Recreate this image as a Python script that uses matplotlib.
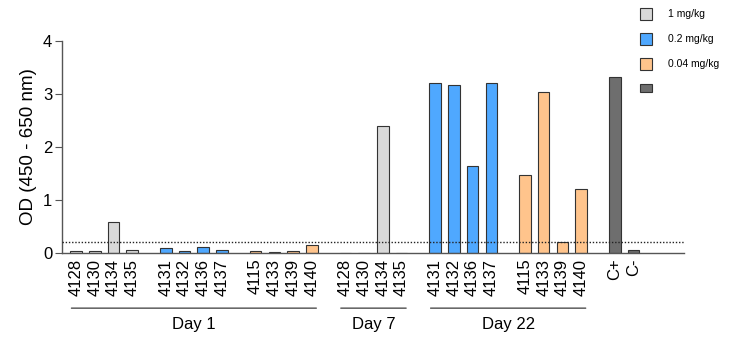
import matplotlib
matplotlib.use("Agg")
import matplotlib.pyplot as plt
from matplotlib.patches import Rectangle
import numpy as np

plt.rcParams['font.family'] = ['Liberation Sans', 'DejaVu Sans']

labels = ["4128", "4130", "4134", "4135", "4131", "4132", "4136", "4137",
          "4115", "4133", "4139", "4140",
          "4128", "4130", "4134", "4135",
          "4131", "4132", "4136", "4137", "4115", "4133", "4139", "4140",
          "C+", "C-"]
values = [0.03, 0.03, 0.58, 0.06, 0.10, 0.04, 0.12, 0.06,
          0.03, 0.02, 0.03, 0.15,
          0.0, 0.0, 2.40, 0.0,
          3.20, 3.17, 1.65, 3.20, 1.47, 3.03, 0.20, 1.20,
          3.33, 0.05]
dose = ["1", "1", "1", "1", "0.2", "0.2", "0.2", "0.2",
        "0.04", "0.04", "0.04", "0.04",
        "1", "1", "1", "1",
        "0.2", "0.2", "0.2", "0.2", "0.04", "0.04", "0.04", "0.04",
        "C+", "C-"]
groups = ["Day 1", "Day 7", "Day 22"]
cutoff = 0.2

colors = {"1": "#d9d9d9", "0.2": "#4fa8ff", "0.04": "#ffc48c",
          "C+": "#6e6e6e", "C-": "#6e6e6e"}

# positions: slots with gaps between groups of 4
pos = []
x = 0.0
for i in range(len(labels)):
    if i > 0 and i % 4 == 0:
        x += 0.8
    pos.append(x)
    x += 1.0
pos = np.array(pos)

fig = plt.figure(figsize=(7.32, 3.38), dpi=100)
ax = fig.add_axes([62/732, 1-253/338, (684-62)/732, (253-41)/338])

for p, v, d in zip(pos, values, dose):
    ax.bar(p, v, width=0.62, color=colors[d], edgecolor="#333333", linewidth=0.8, zorder=2)

ax.axhline(cutoff, color="#222222", linestyle=(0, (1, 1.3)), linewidth=1.0, zorder=3)

ax.set_xlim(-0.75, 32.5)
ax.set_ylim(0, 4)
ax.set_yticks([0, 1, 2, 3, 4])
ax.tick_params(axis='y', labelsize=12, length=5, width=0.8, color="#555555", pad=2)
ax.set_xticks(pos)
ax.set_xticklabels(labels, rotation=90, fontsize=12)
ax.tick_params(axis='x', length=0, pad=4)
for s in ["top", "right"]:
    ax.spines[s].set_visible(False)
for s in ["left", "bottom"]:
    ax.spines[s].set_color("#555555")
    ax.spines[s].set_linewidth(1.0)
ax.set_ylabel("OD (450 - 650 nm)", fontsize=13.5, labelpad=4)

# group lines and labels
group_ranges = [(0, 11), (12, 15), (16, 23)]
for name, (a, b) in zip(groups, group_ranges):
    x0, x1 = pos[a] - 0.4, pos[b] + 0.4
    ax.annotate("", xy=(x0, -1.04), xytext=(x1, -1.04), xycoords="data",
                arrowprops=dict(arrowstyle="-", color="#222222", lw=0.8),
                annotation_clip=False)
    ax.text((x0 + x1) / 2, -1.2, name, ha="center", va="top", fontsize=12,
            clip_on=False)

# legend
leg_items = [("1 mg/kg", colors["1"]), ("0.2 mg/kg", colors["0.2"]),
             ("0.04 mg/kg", colors["0.04"])]
for i, (txt, c) in enumerate(leg_items):
    yc = 338 - (14 + 25 * i)
    fig.patches.append(Rectangle((640/732, (yc - 6)/338), 12/732, 12/338,
                                 transform=fig.transFigure, facecolor=c,
                                 edgecolor="#333333", linewidth=0.8))
    fig.text(668/732, yc/338, txt, ha="left", va="center", fontsize=7.5)
fig.patches.append(Rectangle((640/732, (338-92)/338), 12/732, 8/338,
                             transform=fig.transFigure, facecolor="#6e6e6e",
                             edgecolor="#333333", linewidth=0.8))

fig.savefig("out.png", dpi=100)
